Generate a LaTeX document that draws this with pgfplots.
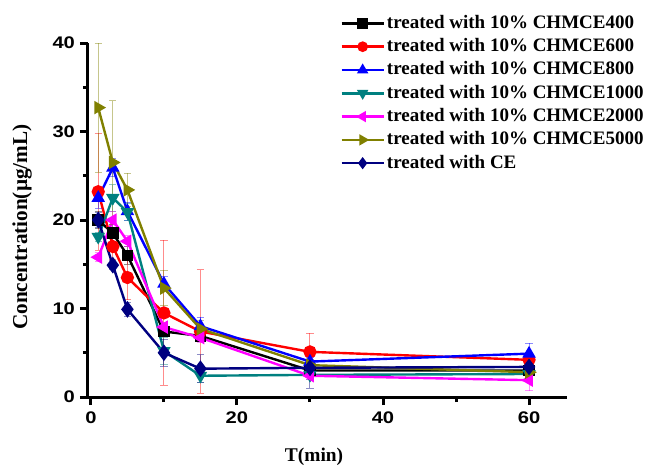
\documentclass[border=0pt]{standalone}
\usepackage{fontspec}
\setmainfont{Liberation Serif}
\newfontfamily\ticksfont[FakeStretch=1.2]{Liberation Sans}
\usepackage{pgfplots}
\pgfplotsset{compat=1.18}

\definecolor{cteal}{RGB}{0,128,128}
\definecolor{colive}{RGB}{128,128,0}
\definecolor{cnavy}{RGB}{0,0,128}
\definecolor{cmag}{RGB}{255,0,255}

\pgfplotsset{
  ser/.style={line width=1.2pt, mark size=2.7pt, mark options={solid},
    error bars/y dir=both, error bars/y explicit,
    error bars/error bar style={line width=0.5pt, opacity=0.45},
    error bars/error mark options={rotate=90, mark size=1.8pt, line width=0.5pt, opacity=0.45}},
}

\begin{document}
\begin{tikzpicture}
\begin{axis}[
  scale only axis,
  width=239.5pt, height=177pt,
  xmin=-0.4, xmax=65.2, ymin=0, ymax=40,
  axis x line*=bottom, axis y line*=left,
  axis line style={line width=1.5pt},
  xtick={0,20,40,60}, ytick={0,10,20,30,40},
  minor xtick={10,30,50}, minor ytick={5,15,25,35},
  tick align=outside,
  major tick length=4pt, minor tick length=2.5pt,
  tick style={line width=1.5pt, black},
  /pgf/number format/assume math mode=true,
  ticklabel style={font=\ticksfont\bfseries\fontsize{8.4}{9}\selectfont},
  yticklabel style={xshift=1pt},
  xlabel={T(min)},
  ylabel={Concentration(µg/mL)},
  every axis x label/.style={at={(axis description cs:0.472,0)}, yshift=-30pt, anchor=center,
    font=\bfseries\fontsize{9.7}{11}\selectfont},
  every axis y label/.style={at={(axis description cs:0,0.48)}, xshift=-33pt, rotate=90, anchor=center,
    font=\bfseries\fontsize{10.6}{12}\selectfont},
  clip=false,
  legend cell align=left,
  legend style={at={(0.526,1.0876)}, anchor=north west, draw=none, fill=none,
    inner sep=0pt, row sep=0.65pt,
    font=\bfseries\fontsize{9.5}{11}\selectfont,
    nodes={inner sep=1pt, text height=7pt, text depth=2pt}},
  legend image code/.code={\draw[mark repeat=2,mark phase=2,line width=1.3pt,mark size=2pt]
    plot coordinates {(0pt,0pt)(10.5pt,0pt)(21pt,0pt)};},
]
\addplot[ser, black, mark=square*, mark size=2.3pt] coordinates {
  (1,20) +- (0,1.0) (3,18.5) +- (0,1.0) (5,16) +- (0,1.0) (10,7.4) +- (0,0.6)
  (15,6.9) +- (0,0.6) (30,3.0) +- (0,0.4) (60,3.0) +- (0,0.4)};
\addplot[ser, red, mark=*] coordinates {
  (1,23.2) +- (0,6.6) (3,17) +- (0,1.5) (5,13.5) +- (0,2.5) (10,9.5) +- (0,8.2)
  (15,7.4) +- (0,7.0) (30,5.1) +- (0,2.1) (60,4.2) +- (0,0.8)};
\addplot[ser, blue, mark=triangle*] coordinates {
  (1,22.5) +- (0,1.2) (3,25.9) +- (0,1.0) (5,21) +- (0,1.0) (10,12.8) +- (0,0.8)
  (15,8.0) +- (0,1.0) (30,4.0) +- (0,0.5) (60,4.9) +- (0,1.2)};
\addplot[ser, cteal, mark=triangle*, mark options={rotate=180}] coordinates {
  (1,18.1) +- (0,0.5) (3,22.5) +- (0,1.5) (5,20.9) +- (0,1.0) (10,5.2) +- (0,1.5)
  (15,2.4) +- (0,0.8) (30,2.5) +- (0,0.5) (60,2.6) +- (0,0.5)};
\addplot[ser, cmag, mark=triangle*, mark options={rotate=90}] coordinates {
  (1,15.8) +- (0,0.5) (3,20) +- (0,1.0) (5,17.6) +- (0,0.6) (10,7.9) +- (0,0.5)
  (15,6.7) +- (0,0.5) (30,2.4) +- (0,0.4) (60,1.9) +- (0,1.2)};
\addplot[ser, colive, mark=triangle*, mark options={rotate=-90}] coordinates {
  (1,32.7) +- (0,7.3) (3,26.5) +- (0,7.0) (5,23.4) +- (0,1.9) (10,12.3) +- (0,2.0)
  (15,7.7) +- (0,1.0) (30,3.6) +- (0,0.6) (60,2.8) +- (0,0.5)};
\addplot[ser, cnavy, mark=diamond*, mark size=3.2pt] coordinates {
  (1,20) +- (0,0.8) (3,14.9) +- (0,0.5) (5,9.9) +- (0,0.8) (10,5.0) +- (0,1.5)
  (15,3.2) +- (0,1.6) (30,3.3) +- (0,2.3) (60,3.4) +- (0,0.3)};
\legend{treated with 10\% CHMCE400, treated with 10\% CHMCE600, treated with 10\% CHMCE800,
  treated with 10\% CHMCE1000, treated with 10\% CHMCE2000, treated with 10\% CHMCE5000,
  treated with CE}
\end{axis}
\pgfresetboundingbox
\path (current axis.south west) ++(-44pt,-34pt) coordinate (bl);
\path (bl) rectangle ++(323.5pt,232.5pt);
\end{tikzpicture}
\end{document}
